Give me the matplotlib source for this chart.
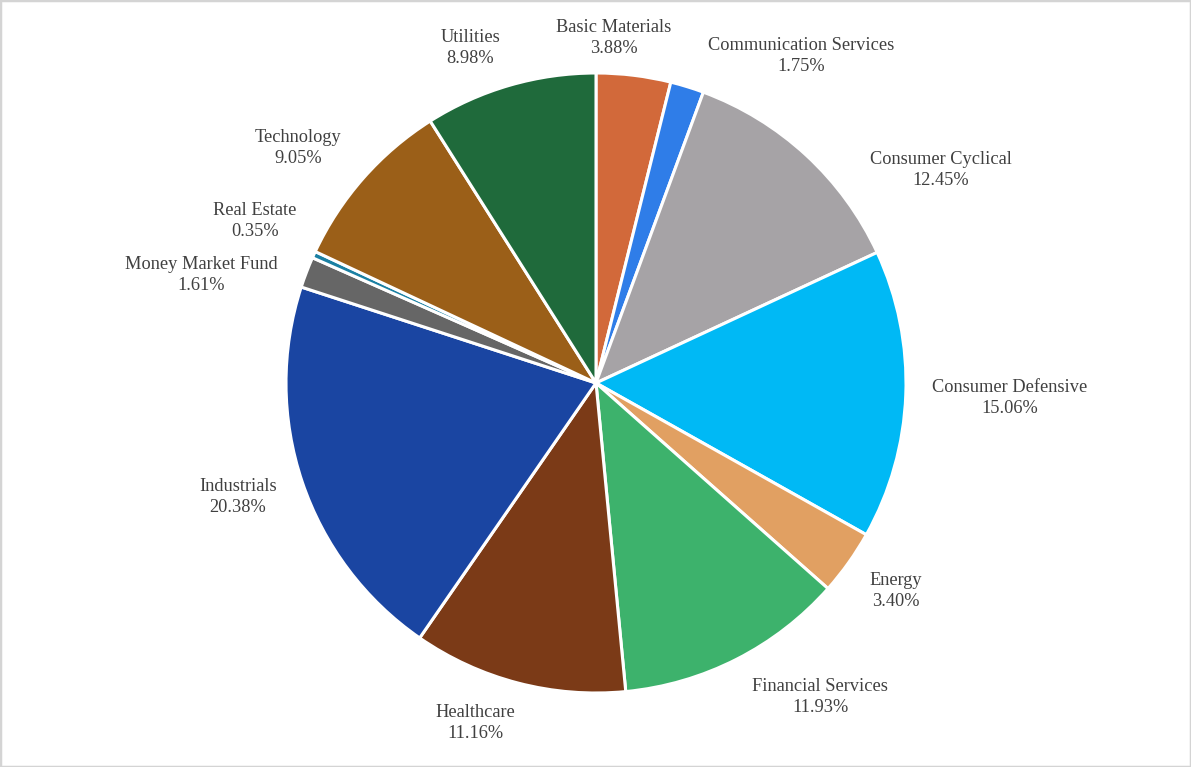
import matplotlib
matplotlib.use('Agg')
import matplotlib.pyplot as plt
import numpy as np

#sector weights, clockwise from the top
sectors = ['Basic Materials', 'Communication Services', 'Consumer Cyclical',
           'Consumer Defensive', 'Energy', 'Financial Services', 'Healthcare',
           'Industrials', 'Money Market Fund', 'Real Estate', 'Technology', 'Utilities']
weights = [3.88, 1.75, 12.45, 15.06, 3.40, 11.93, 11.16, 20.38, 1.61, 0.35, 9.05, 8.98]

colors = ['#D2693A', '#2F7DE8', '#A6A3A6', '#00B9F5', '#E1A062', '#3DB26C',
          '#7B3A17', '#1A45A2', '#666666', '#1B80A3', '#9B5F18', '#1F6A3B']

#label block centres, in pie radius units (layout only)
label_xy = [(0.058, 1.113), (0.661, 1.055), (1.113, 0.687), (1.335, -0.048),
            (0.968, -0.671), (0.723, -1.013), (-0.390, -1.097), (-1.155, -0.368),
            (-1.274, 0.348), (-1.100, 0.523), (-0.961, 0.758), (-0.406, 1.081)]

W, H = 1191, 767
cx, cy, R = 596, 383, 310

fig = plt.figure(figsize=(W / 100, H / 100), dpi=100)
ax = fig.add_axes([0, 0, 1, 1])

ax.pie(weights, colors=colors, startangle=90, counterclock=False, radius=1,
       wedgeprops=dict(edgecolor='white', linewidth=2.2))

for name, w, (lx, ly) in zip(sectors, weights, label_xy):
    ax.text(lx, ly, f'{name}\n{w:.2f}%', ha='center', va='center',
            fontsize=13.2, family='Liberation Serif', color='#404040',
            linespacing=1.3)

ax.set_xlim(-cx / R, (W - cx) / R)
ax.set_ylim(-(H - cy) / R, cy / R)
ax.set_aspect('equal')
ax.axis('off')

#thin grey frame round the picture
fig.patches.append(plt.Rectangle((0, 0), 1, 1, transform=fig.transFigure,
                                 fill=False, edgecolor='#D4D4D4', linewidth=2.5))

fig.savefig('out.png', dpi=100, facecolor='white')
